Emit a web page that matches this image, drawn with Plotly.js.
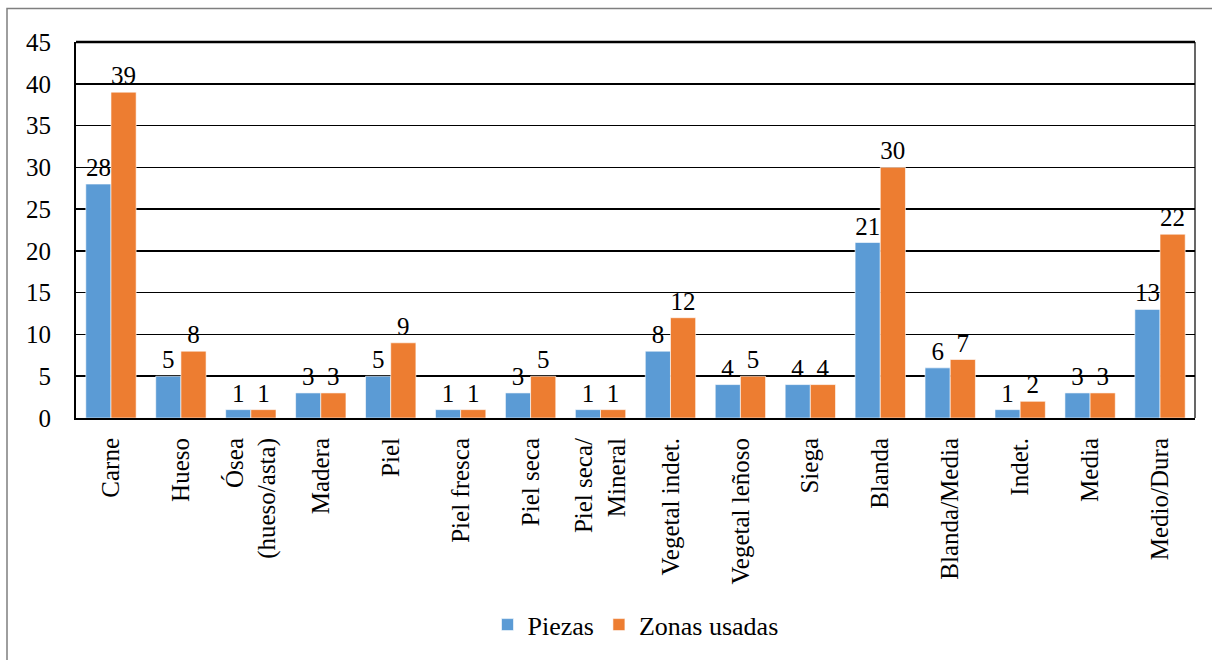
<!DOCTYPE html>
<html><head><meta charset="utf-8">
<script src="https://cdn.plot.ly/plotly-3.0.1.min.js"></script>
<style>html,body{margin:0;padding:0;background:#fff}#c{width:1212px;height:660px}</style>
</head><body><div id="c"></div>
<script>
const categories = ["Carne","Hueso","Ósea<br>(hueso/asta)","Madera","Piel","Piel fresca","Piel seca","Piel seca/<br>Mineral","Vegetal indet.","Vegetal leñoso","Siega","Blanda","Blanda/Media","Indet.","Media","Medio/Dura"];
const piezas = [28,5,1,3,5,1,3,1,8,4,4,21,6,1,3,13];
const zonasUsadas = [39,8,1,3,9,1,5,1,12,5,4,30,7,2,3,22];
const yTicks = [0,5,10,15,20,25,30,35,40,45];

const serif = "Liberation Serif";
const W = 1212, H = 660, L = 76, R = 17, T = 42, B = 236;
const pw = W - L - R, ph = H - T - B;

const traces = [
  {type:'bar', name:'Piezas', x:categories, y:piezas, marker:{color:'#5B9BD5', line:{color:'#ffffff', width:0.6}},
   text:piezas.map(String), textposition:'outside', cliponaxis:false,
   textfont:{family:serif, size:25, color:'#000'}},
  {type:'bar', name:'Zonas usadas', x:categories, y:zonasUsadas, marker:{color:'#ED7D31', line:{color:'#ffffff', width:0.6}},
   text:zonasUsadas.map(String), textposition:'outside', cliponaxis:false,
   textfont:{family:serif, size:25, color:'#000'}}
];

const layout = {
  width:W, height:H,
  margin:{l:L, r:R, t:T, b:B},
  paper_bgcolor:'#fff', plot_bgcolor:'#fff',
  barmode:'group', bargap:0.28, bargroupgap:0,
  font:{family:serif, size:25, color:'#000'},
  showlegend:true,
  legend:{orientation:'h', x:0.5, xanchor:'center', y:(424-634)/ph, yanchor:'middle',
          font:{family:serif, size:26, color:'#000'}, itemwidth:30, traceorder:'normal'},
  xaxis:{type:'category', tickangle:-90, showline:true, linecolor:'#000', linewidth:2, mirror:false,
         ticks:'', showgrid:false, ticklabelstandoff:8, tickfont:{family:serif, size:25, color:'#000'}, automargin:false},
  yaxis:{range:[0,45], tickvals:yTicks, ticktext:yTicks.map(String), showline:true, linecolor:'#000', linewidth:2,
         showgrid:true, gridcolor:'#000', gridwidth:1.5, zeroline:false, ticks:'', ticklabelstandoff:18,
         tickfont:{family:serif, size:25, color:'#000'}, automargin:false},
  shapes:[
    {type:'line', xref:'paper', yref:'paper', x0:1, x1:1, y0:0, y1:1, line:{color:'#000', width:1.2}},
    {type:'line', xref:'paper', yref:'paper', x0:0, x1:1, y0:1, y1:1, line:{color:'#000', width:2.5}},
    {type:'rect', xref:'paper', yref:'paper', x0:(7-L)/pw, x1:(1240-L)/pw, y0:(424-700)/ph, y1:(424-8)/ph,
     line:{color:'#7f7f7f', width:1.5}, fillcolor:'rgba(0,0,0,0)', layer:'below'}
  ]
};
Plotly.newPlot('c', traces, layout, {displayModeBar:false, staticPlot:true});
</script></body></html>
